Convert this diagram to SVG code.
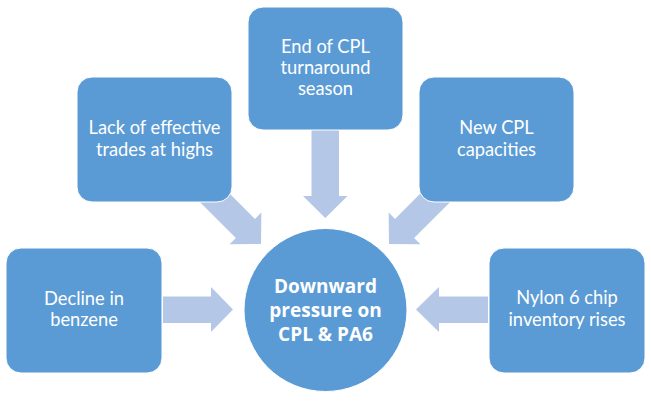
<svg xmlns="http://www.w3.org/2000/svg" width="651" height="402" viewBox="0 0 651 402">
<style>
.box{fill:#5B9BD5;stroke:#FFFFFF;stroke-width:1}
.arr{fill:#B4C7E7}
.t{font-family:Lato,"Liberation Sans",sans-serif;font-size:18.3px;fill:#FFFFFF;text-anchor:middle}
.c{font-family:"Open Sans","Liberation Sans",sans-serif;font-size:19px;font-weight:bold;fill:#FFFFFF;text-anchor:middle}
</style>
<defs>
<polygon id="diag" points="-78,-13.5 -22,-13.5 -22,-22.5 0,0 -22,22.5 -22,13.5 -78,13.5"/>
</defs>
<g id="connectors">
<polygon class="arr" points="163,296.5 211,296.5 211,287 233,309.5 211,332 211,323 163,323"/>
<polygon class="arr" points="488,296.5 439,296.5 439,287 416,309.5 439,332 439,323 488,323"/>
<polygon class="arr" points="311.5,128 339,128 339,196 347.5,196 325.25,218 303,196 311.5,196"/>
<use href="#diag" class="arr" transform="translate(261,244) rotate(45)"/>
<use href="#diag" class="arr" transform="translate(389,244) rotate(135)"/>
</g>
<g id="decline">
<rect class="box" x="6" y="248" width="156" height="125" rx="15"/>
<text class="t" x="84" y="305">Decline in</text>
<text class="t" x="84" y="326">benzene</text>
</g>
<g id="lack">
<rect class="box" x="77" y="77" width="155" height="125" rx="15"/>
<text class="t" x="154.5" y="134">Lack of effective</text>
<text class="t" x="154.5" y="156">trades at highs</text>
</g>
<g id="end">
<rect class="box" x="248" y="7" width="155" height="123" rx="15"/>
<text class="t" x="325.5" y="53">End of CPL</text>
<text class="t" x="325.5" y="74">turnaround</text>
<text class="t" x="325.5" y="95">season</text>
</g>
<g id="newcpl">
<rect class="box" x="419" y="77" width="155" height="125" rx="15"/>
<text class="t" x="496.5" y="134">New CPL</text>
<text class="t" x="496.5" y="156">capacities</text>
</g>
<g id="nylon">
<rect class="box" x="489" y="248" width="156" height="125" rx="15"/>
<text class="t" x="567" y="304">Nylon 6 chip</text>
<text class="t" x="567" y="326">inventory rises</text>
</g>
<g id="center">
<circle cx="325.5" cy="310" r="81.5" fill="#5B9BD5" stroke="#FFFFFF" stroke-width="1"/>
<text class="c" x="325.5" y="293">Downward</text>
<text class="c" x="325.5" y="317">pressure on</text>
<text class="c" x="325.5" y="341">CPL &amp; PA6</text>
</g>
</svg>
